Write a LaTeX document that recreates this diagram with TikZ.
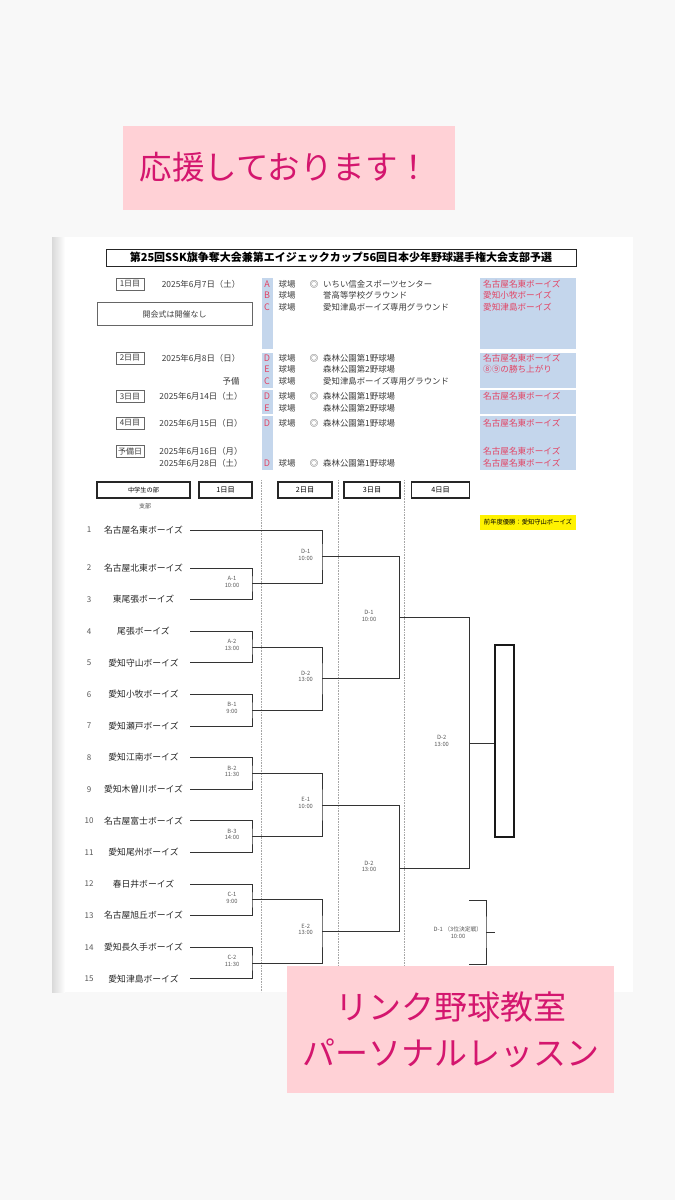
\documentclass[tikz,border=0pt]{standalone}
\usepackage{fontspec}
\setmainfont{Noto Sans CJK JP}
\usetikzlibrary{calc,positioning}

\definecolor{bgcol}{RGB}{248,248,248}
\definecolor{pinkbox}{RGB}{255,209,214}
\definecolor{pinktext}{RGB}{212,22,110}
\definecolor{bluecol}{RGB}{196,214,236}
\definecolor{redtext}{RGB}{226,68,100}
\definecolor{inkgray}{RGB}{60,60,60}

\begin{document}
\begin{tikzpicture}[x=1pt, y=-1pt,
    line/.style={draw=black!80, line width=0.9pt},
    sep/.style={draw=gray!70, densely dotted, line width=0.6pt},
    hdrbox/.style={draw=black!85, line width=1.2pt, minimum height=16, inner sep=0},
    daybox/.style={draw=black!60, line width=0.7pt, minimum width=28, minimum height=12, inner sep=0, font=\fontsize{8}{9}\selectfont, text=inkgray},
    sched/.style={inner sep=0, font=\fontsize{8.4}{9}\selectfont, text=inkgray},
    redname/.style={inner sep=0, anchor=west, font=\fontsize{8.6}{9}\selectfont, text=redtext},
    letter/.style={inner sep=0, font=\fontsize{9}{10}\selectfont, text=redtext},
    team/.style={inner sep=0, font=\fontsize{8.8}{10}\selectfont, text=black!85},
    teamno/.style={inner sep=0, font=\fontsize{8}{9}\selectfont, text=black!65},
    matchlbl/.style={inner sep=0, align=center, font=\fontsize{5.8}{6.6}\selectfont, text=black!65},
    bigpink/.style={inner sep=0, text=pinktext, font=\fontsize{32.5}{38}\selectfont}
]

    % Page
    \fill [bgcol] (0,0) rectangle (675,1200);
    \useasboundingbox (0,0) rectangle (675,1200);
    \fill [white] (52,237) rectangle (633,992);
    \shade [left color=black!15, right color=white] (52,237) rectangle (65,992);

    % Title
    \node [hdrbox, line width=1pt, minimum width=470, minimum height=17,
        font=\fontsize{11}{12}\selectfont\bfseries] (title) at (341,257.5)
        {第25回SSK旗争奪大会兼第エイジェックカップ56回日本少年野球選手権大会支部予選};

    % Schedule: blue columns
    \foreach \ya/\yb in {278/349, 352.5/388, 390/414, 416/470}{
        \fill [bluecol] (261.5,\ya) rectangle (273,\yb);
        \fill [bluecol] (480,\ya) rectangle (576,\yb);
    }

    % Schedule: days and dates
    \node [daybox] (day1) at (130,284) {1日目};
    \node [daybox] (day2) at (130,358) {2日目};
    \node [daybox] (day3) at (130,396.5) {3日目};
    \node [daybox] (day4) at (130,423) {4日目};
    \node [daybox] (dayr) at (130,451) {予備日};
    \node [sched] (date1) at (201,284) {2025年6月7日（土）};
    \node [sched] (date2) at (201,358) {2025年6月8日（日）};
    \node [sched] (date3) at (201,396.5) {2025年6月14日（土）};
    \node [sched] (date4) at (201,423) {2025年6月15日（日）};
    \node [sched] (date5) at (201,451) {2025年6月16日（月）};
    \node [sched] (date6) at (201,463) {2025年6月28日（土）};
    \node [sched] (spare) at (231,381) {予備};
    \node [daybox, minimum width=155, minimum height=23] (opening) at (174.5,314) {開会式は開催なし};

    % Schedule: grounds
    \foreach \y/\lt/\venue [count=\n] in {284/A/いちい信金スポーツセンター, 295.5/B/誉高等学校グラウンド,
        307/C/愛知津島ボーイズ専用グラウンド, 358/D/森林公園第1野球場, 369.5/E/森林公園第2野球場,
        381/C/愛知津島ボーイズ専用グラウンド, 396.5/D/森林公園第1野球場, 408/E/森林公園第2野球場,
        423/D/森林公園第1野球場, 463/D/森林公園第1野球場}{
        \node [letter] (lt\n) at (267,\y) {\lt};
        \node [sched] (field\n) at (287,\y) {球場};
        \node [sched, anchor=west] (venue\n) at (323,\y) {\venue};
    }
    \foreach \y [count=\n] in {284, 358, 396.5, 423, 463}
        \node [sched] (main\n) at (314,\y) {◎};

    % Schedule: home teams
    \foreach \y/\txt [count=\n] in {284/名古屋名東ボーイズ, 295.5/愛知小牧ボーイズ, 307/愛知津島ボーイズ,
        358/名古屋名東ボーイズ, 369.5/⑧⑨の勝ち上がり, 396.5/名古屋名東ボーイズ,
        423/名古屋名東ボーイズ, 451/名古屋名東ボーイズ, 463/名古屋名東ボーイズ}
        \node [redname] (host\n) at (483,\y) {\txt};

    % Bracket headers
    \node [hdrbox, minimum width=93, font=\fontsize{6.2}{7}\selectfont] (hdrdiv) at (143.5,490) {中学生の部};
    \node [inner sep=0, font=\fontsize{6}{7}\selectfont, text=black!70] (branch) at (145,506) {支部};
    \node [hdrbox, minimum width=53, font=\fontsize{7.2}{8}\selectfont] (hdr1) at (225.5,490) {1日目};
    \node [hdrbox, minimum width=54, font=\fontsize{7.2}{8}\selectfont] (hdr2) at (305,490) {2日目};
    \node [hdrbox, minimum width=56, font=\fontsize{7.2}{8}\selectfont] (hdr3) at (372,490) {3日目};
    \node [hdrbox, minimum width=57.5, font=\fontsize{7.2}{8}\selectfont] (hdr4) at (440.5,490) {4日目};
    \foreach \sx in {261.7, 338.3, 404}
        \draw [sep] (\sx,480) -- (\sx,992);

    \node [fill=yellow, minimum width=96, minimum height=15, inner sep=0,
        font=\fontsize{6.3}{7}\selectfont] (lastwin) at (528,522) {前年度優勝：愛知守山ボーイズ};

    % Teams
    \foreach \i/\name in {1/名古屋名東ボーイズ, 2/名古屋北東ボーイズ, 3/東尾張ボーイズ, 4/尾張ボーイズ,
        5/愛知守山ボーイズ, 6/愛知小牧ボーイズ, 7/愛知瀬戸ボーイズ, 8/愛知江南ボーイズ,
        9/愛知木曽川ボーイズ, 10/名古屋富士ボーイズ, 11/愛知尾州ボーイズ, 12/春日井ボーイズ,
        13/名古屋旭丘ボーイズ, 14/愛知長久手ボーイズ, 15/愛知津島ボーイズ}{
        \pgfmathsetmacro\ty{\i==1 ? 530 : 568+31.6*(\i-2)}
        \node [teamno] (no\i) at (89,\ty) {\i};
        \node [team] (team\i) at (143.5,\ty) {\name};
        \coordinate (s\i) at (190,\ty);
    }

    % Matches: name / label / time / upper / lower / column / label shift
    \foreach \m/\lbl/\tm/\a/\b/\cx/\lx in {
        A1/A-1/10:00/s2/s3/252/-20, A2/A-2/13:00/s4/s5/252/-20,
        B1/B-1/9:00/s6/s7/252/-20, B2/B-2/11:30/s8/s9/252/-20,
        B3/B-3/14:00/s10/s11/252/-20, C1/C-1/9:00/s12/s13/252/-20,
        C2/C-2/11:30/s14/s15/252/-20,
        D1/D-1/10:00/s1/A1/322/-16.3, D2/D-2/13:00/A2/B1/322/-16.3,
        E1/E-1/10:00/B2/B3/322/-16.3, E2/E-2/13:00/C1/C2/322/-16.3,
        F1/D-1/10:00/D1/D2/399.3/-30.3, F2/D-2/13:00/E1/E2/399.3/-30.3,
        G/D-2/13:00/F1/F2/469.3/-27.6}{
        \coordinate (h\m) at ($(\a)!.5!(\b)$);
        \coordinate (c\m) at (\cx,0);
        \coordinate (\m) at (h\m -| c\m);
        \draw [line] (\a) -| (\m) |- (\b);
        \node [matchlbl] (lbl\m) at ([xshift=\lx, yshift=2]\m) {\lbl\\\tm};
    }

    % Winner
    \node [draw=black!90, line width=1.5pt, minimum width=19, minimum height=192, inner sep=0] (champ) at (504.7,741) {};
    \draw [line] (G) -- (G -| champ.west);

    % Third place
    \coordinate (p3a) at (469.3,900);
    \coordinate (p3b) at (469.3,964);
    \coordinate (p3) at (486,932);
    \coordinate (p3end) at (495,932);
    \draw [line] (p3a) -| (p3) |- (p3b);
    \draw [line] (p3) -- (p3end);
    \node [matchlbl] (lblp3) at (458,932.5) {D-1\ （3位決定戦）\\10:00};

    % Banners
    \fill [pinkbox] (123,126) rectangle (455,210);
    \node [bigpink] (cheer) at (285,167) {応援しております！};
    \fill [pinkbox] (287,966) rectangle (614,1093);
    \node [bigpink, font=\fontsize{33}{38}\selectfont] (lesson1) at (451,1007) {リンク野球教室};
    \node [bigpink, font=\fontsize{33}{38}\selectfont] (lesson2) at (451,1053) {パーソナルレッスン};
\end{tikzpicture}
\end{document}
